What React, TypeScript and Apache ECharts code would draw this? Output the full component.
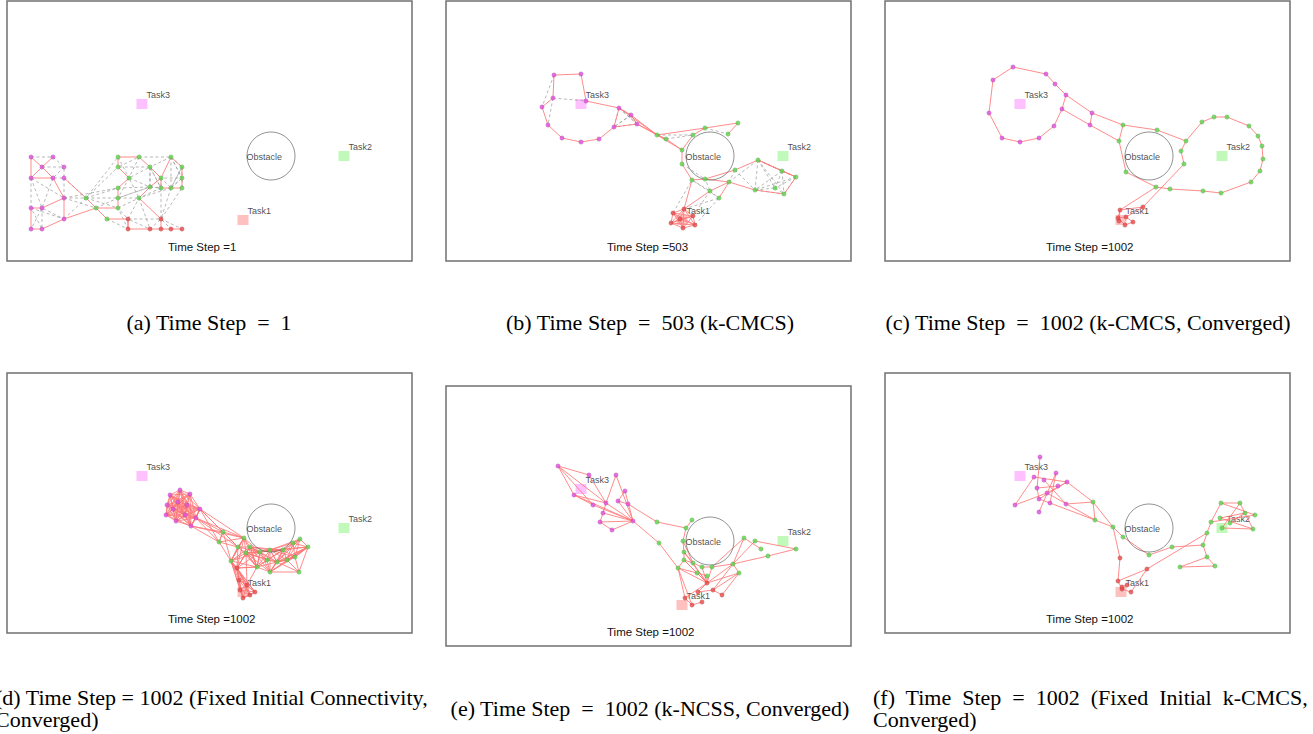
import React, { useEffect, useRef } from "react";
import * as echarts from "echarts";

type P = [number, number];

// ---------- shared scene data (frame-relative units) ----------
const taskNames = ["Task1", "Task2", "Task3"];
const taskPos: P[] = [[236, 219], [337, 155], [135, 103]];
const obstacleCenter: P = [264, 155];
const obstacleRadius = 24;
const timeSteps = [1, 503, 1002, 1002, 1002, 1002];
const captions: string[] = [
  "(a) Time Step  =  1",
  "(b) Time Step  =  503 (k-CMCS)",
  "(c) Time Step  =  1002 (k-CMCS, Converged)",
  "(d) Time Step = 1002 (Fixed Initial Connectivity,\nConverged)",
  "(e) Time Step  =  1002 (k-NCSS, Converged)",
  "(f)  Time  Step  =  1002  (Fixed  Initial  k-CMCS,\nConverged)",
];

// ---------- panel (a) ----------
const aMagenta: P[] = [[24,156],[46,156],[35,166],[57,166],[24,177],[46,177],[57,177],[57,197],[24,207],[35,207],[57,218],[24,228],[35,228]];
const aGreen: P[] = [[111,156],[132,156],[164,156],[111,166],[143,166],[175,166],[122,177],[154,177],[175,177],[111,187],[143,186],[154,187],[164,187],[175,187],[79,197],[111,197],[132,197],[89,207],[111,207],[100,218]];
const aRed: P[] = [[121,218],[154,218],[121,228],[143,228],[154,228],[164,228],[175,228]];
const aSolid: string[] = [
  "m0 m2 m1", "m2 m4 m0", "m4 m5 m2", "m5 m7 m9 m8 m11 m12 m10 m7", "m6 g14", "m10 g17",
  "g14 g17 g18 g15 g9 g6 g3 g0 g1 g4 g7 g2 g5 g8 g13 g12 g11 g7",
  "g17 g19 r0 r2 r3 r4 r5 r6", "g7 g10 g16 r1 r4", "r0 r2",
];
const aDashed: string[] = [
  "m0 m1", "m1 m3 m6", "m2 m3 m5 m6", "m4 m8", "m4 m9 m5", "m6 m7 m4", "m8 m10 m9 m11", "m9 m12 m8",
  "m7 g14 m10", "m7 g17", "m6 g14 g0", "g14 g3", "g14 g9", "g14 g15", "g14 g18", "m7 g9",
  "g1 g2", "g0 g6 g1 g3 g4 g6 g10 g4 g11", "g2 g8 g7 g12 g5", "g10 g11 g16 g12",
  "g9 g10 g15 g16 g6", "g15 g10", "g18 g16 r0 g18 r2", "g19 r2", "g17 g15",
  "g12 r1 g13", "g11 r1 r0 r3 r1 r5", "r1 r6", "g16 r3", "g6 g15", "g2 g4", "g13 g8 g12",
];
const aSolidCliques: string[] = [];
const aDashedCliques: string[] = ["g4 g7 g10 g11", "g2 g5 g8 g12"];

// ---------- panel (b) ----------
const bMagenta: P[] = [[108,74],[135,73],[107,97],[96,106],[140,100],[102,124],[116,137],[135,141],[153,138],[168,126],[173,107],[185,114],[191,123]];
const bGreen: P[] = [[211,134],[220,138],[247,134],[259,127],[282,133],[292,122],[236,149],[236,163],[246,179],[259,178],[283,181],[289,169],[264,190],[273,197],[312,159],[336,170],[350,176],[309,189],[329,187],[338,193]];
const bRed: P[] = [[238,208],[227,212],[247,215],[225,222],[249,224],[237,227],[234,218]];
const bSolid: string[] = [
  "m0 m1 m4 m10 m9 m8 m7 m6 m5 m3 m2 m0", "m10 m11 g0", "m9 m12 g1", "m11 m12", "m10 g0", "m12 g0",
  "g0 g3 g5 g4", "g3 g2 g6", "g0 g1 g6 g0", "g6 g7 g8 g9 g11 g14 g16 g19", "g14 g15 g16",
  "g10 g17 g19", "g9 g10 g13", "r0 g8", "r0 g12 g10",
];
const bDashed: string[] = [
  "m0 m3", "m2 m5", "m2 m4", "m10 m12", "m11 m9", "g1 g2", "g0 g2", "g3 g4", "g7 g9",
  "g8 g12 g9", "g12 g13 g8", "g10 g14", "g11 g17", "r0 g13", "r4 g13", "r2 g12", "r1 g8", "g11 g10",
];
const bSolidCliques: string[] = ["r0 r1 r2 r3 r4 r5 r6"];
const bDashedCliques: string[] = ["g14 g15 g16 g17 g18 g19", "m10 m11 m12 m9"];

// ---------- panel (c) ----------
const cMagenta: P[] = [[128,66],[161,73],[170,83],[181,94],[177,108],[169,125],[154,137],[135,141],[117,137],[104,112],[108,79],[207,112],[205,124]];
const cGreen: P[] = [[238,124],[272,129],[301,140],[296,150],[299,163],[285,188],[271,186],[241,171],[234,140],[317,121],[329,116],[342,116],[364,125],[373,135],[377,145],[378,158],[375,170],[366,181],[336,192],[318,190]];
const cRed: P[] = [[235,209],[258,206],[233,217],[241,216],[240,224],[248,221],[234,220]];
const cSolid: string[] = [
  "m0 m1 m2 m3 m4 m5 m6 m7 m8 m9 m10 m0", "m3 m11 g0", "m4 m12 g8", "m11 m12",
  "g0 g1 g2 g9 g10 g11 g12 g13 g14 g15 g16 g17 g18 g19 g5 g6 g7 g8 g0",
  "g2 g3 g4 r1", "g6 r0", "r0 r1 r3 r5 r4 r2 r0", "r2 r3", "r6 r0",
];
const cDashed: string[] = [];
const cSolidCliques: string[] = [];
const cDashedCliques: string[] = [];

// ---------- panel (d) ----------
const dMagenta: P[] = [[173,117],[163,122],[183,121],[160,132],[171,129],[180,132],[193,136],[159,142],[169,148],[178,142],[189,145],[184,153],[166,136]];
const dGreen: P[] = [[216,159],[212,169],[237,165],[231,174],[243,174],[224,188],[239,180],[253,179],[263,177],[276,177],[286,170],[293,166],[301,174],[288,184],[292,199],[280,187],[270,189],[260,187],[263,199],[250,194]];
const dRed: P[] = [[230,195],[232,207],[233,217],[236,225],[248,219],[240,212],[243,222]];
const dSolid: string[] = ["m6 g2", "m10 g3", "m11 g2", "m10 g2", "m6 g3"];
const dDashed: string[] = [];
const dSolidCliques: string[] = [
  "m0 m1 m2 m3 m4 m5 m6 m7 m8 m9 m10 m11 m12",
  "m6 m10 m11 g0 g1",
  "g0 g1 g2 g3 g5",
  "g2 g3 g4 g6 g7 g5 g19 r0",
  "g4 g6 g7 g8 g9 g17 g16 g19 g18",
  "g8 g9 g10 g11 g12 g13 g15 g16",
  "g13 g14 g15 g16 g18 g12",
  "r0 r1 r2 r3 r4 r5 r6 g5",
  "r0 r5 g19 g6",
];
const dDashedCliques: string[] = [];

// ---------- panel (e) ----------
const eMagenta: P[] = [[112,80],[143,89],[170,89],[128,109],[179,105],[172,115],[182,118],[147,119],[160,117],[157,127],[154,136],[187,135],[166,144]];
const eGreen: P[] = [[211,136],[213,157],[246,134],[240,142],[237,155],[238,166],[238,174],[232,182],[247,177],[251,187],[256,181],[261,190],[266,181],[298,152],[309,155],[315,163],[350,163],[322,170],[287,178],[293,187]];
const eRed: P[] = [[261,197],[267,204],[276,209],[239,212],[246,219],[256,216],[252,206]];
const eSolid: string[] = [
  "m0 m1 m8", "m0 m3 m7 m11", "m0 m8", "m0 m7", "m2 m8", "m2 m11", "m3 m8 m11", "m3 m11",
  "m9 m11", "m10 m11", "m12 m11", "m9 m10 m12", "m8 m9", "m4 m5 m6", "m4 m11", "m5 m11",
  "m6 g0 g3", "m11 g1 g7",
  "g2 g3 g4 g5 g6 g7", "g4 g8", "g5 g8", "g6 g8 g10 g12", "g6 g9 g11", "g7 g9",
  "g12 g13 g18 g14", "g14 g16 g17 g18", "g13 g15", "g18 g19",
  "g19 r1", "g19 r2", "g18 r1", "g18 r0", "g19 r0", "g12 g18",
  "r0 g7", "r0 g5", "r0 g6", "r0 g8", "r0 g9", "r0 g11", "r0 g10", "r0 g12",
  "r0 r3 r4 r5", "r0 r6 r1 r2", "g7 r3", "g7 r4",
];
const eDashed: string[] = [];
const eSolidCliques: string[] = [];
const eDashedCliques: string[] = [];

// ---------- panel (f) ----------
const fMagenta: P[] = [[155,84],[149,104],[159,107],[171,100],[182,109],[173,113],[152,115],[162,120],[154,126],[165,130],[181,131],[130,132],[154,139]];
const fGreen: P[] = [[208,129],[210,147],[228,154],[238,164],[264,182],[287,174],[318,172],[322,160],[322,184],[295,194],[330,193],[326,149],[336,130],[355,130],[360,140],[370,142],[337,155],[335,145],[368,156],[345,150]];
const fRed: P[] = [[235,185],[233,208],[262,196],[237,216],[246,219],[242,212],[237,214]];
const fSolid: string[] = [
  "m0 m6 m8", "m1 m4", "m1 m11", "m11 m7 m4", "m2 m10", "m3 m12", "m4 m8", "m5 m6", "m9 m8", "m3 m9",
  "m4 g0", "m10 g0", "m9 g1", "m7 g1",
  "g0 g1 g2 g0", "g2 g3 g4 g5 g6 g7 g11", "g9 g8 g6", "g9 g10 g8",
  "g11 g12 g13 g18", "g12 g15", "g11 g15", "g14 g17", "g16 g18", "g19 g14", "g17 g18", "g16 g13",
  "g2 r0 r1 r3 r4", "r1 r2 g7", "r4 r2", "r5 r6",
];
const fDashed: string[] = [];
const fSolidCliques: string[] = [];
const fDashedCliques: string[] = [];

const panelData = [
  { m: aMagenta, g: aGreen, r: aRed, solid: aSolid, dashed: aDashed, sc: aSolidCliques, dc: aDashedCliques },
  { m: bMagenta, g: bGreen, r: bRed, solid: bSolid, dashed: bDashed, sc: bSolidCliques, dc: bDashedCliques },
  { m: cMagenta, g: cGreen, r: cRed, solid: cSolid, dashed: cDashed, sc: cSolidCliques, dc: cDashedCliques },
  { m: dMagenta, g: dGreen, r: dRed, solid: dSolid, dashed: dDashed, sc: dSolidCliques, dc: dDashedCliques },
  { m: eMagenta, g: eGreen, r: eRed, solid: eSolid, dashed: eDashed, sc: eSolidCliques, dc: eDashedCliques },
  { m: fMagenta, g: fGreen, r: fRed, solid: fSolid, dashed: fDashed, sc: fSolidCliques, dc: fDashedCliques },
];

// ---------- layout (page pixels) ----------
const frames: [number, number][] = [[7, 1], [446, 1], [885, 1], [7, 373], [446, 386], [885, 373]];
const FW = 405;
const FH = 260;
const SANS = '"Liberation Sans", Arial, Helvetica, sans-serif';
const SERIF = '"Liberation Serif", "Times New Roman", Times, serif';

function buildOption() {
  const grid: any[] = [];
  const xAxis: any[] = [];
  const yAxis: any[] = [];
  const series: any[] = [];
  const graphic: any[] = [];

  panelData.forEach((pd, i) => {
    const [fx, fy] = frames[i];
    grid.push({
      left: fx, top: fy, width: FW, height: FH, show: true,
      borderColor: "#707070", borderWidth: 1.5, backgroundColor: "#fff",
    });
    xAxis.push({ type: "value", gridIndex: i, min: 0, max: FW, show: false });
    yAxis.push({ type: "value", gridIndex: i, min: 0, max: FH, inverse: true, show: false });

    const look = (id: string): P => {
      const k = id[0];
      const n = parseInt(id.slice(1), 10);
      return (k === "m" ? pd.m : k === "g" ? pd.g : pd.r)[n];
    };
    const chains = (list: string[]) =>
      list.map((s) => ({ coords: s.trim().split(/\s+/).map(look) }));
    const cliques = (list: string[]) => {
      const out: any[] = [];
      list.forEach((s) => {
        const ids = s.trim().split(/\s+/);
        for (let a = 0; a < ids.length; a++)
          for (let b = a + 1; b < ids.length; b++)
            out.push({ coords: [look(ids[a]), look(ids[b])] });
      });
      return out;
    };

    series.push({
      type: "scatter", xAxisIndex: i, yAxisIndex: i, z: 1, silent: true,
      symbol: "rect", symbolSize: [11, 10],
      data: taskNames.map((n, k) => ({
        name: n, value: taskPos[k],
        itemStyle: { color: ["#ffb0b0", "#b0f7a8", "#ffb0ff"][k] },
      })),
      label: {
        show: true, formatter: "{b}", position: [10, -4], align: "left", verticalAlign: "middle",
        fontFamily: SANS, fontSize: 9, color: "#1a1a1a",
      },
    });
    series.push({
      type: "lines", coordinateSystem: "cartesian2d", xAxisIndex: i, yAxisIndex: i, z: 2,
      polyline: true, silent: true,
      lineStyle: { color: "#9a9a9a", width: 0.7, type: [3, 2.5], opacity: 1 },
      data: [...chains(pd.dashed), ...cliques(pd.dc)],
    });
    series.push({
      type: "lines", coordinateSystem: "cartesian2d", xAxisIndex: i, yAxisIndex: i, z: 3,
      polyline: true, silent: true,
      lineStyle: { color: "#ff7878", width: 0.9, opacity: 0.95 },
      data: [...chains(pd.solid), ...cliques(pd.sc)],
    });
    series.push({
      type: "scatter", xAxisIndex: i, yAxisIndex: i, z: 4, silent: true,
      symbol: "circle", symbolSize: obstacleRadius * 2,
      itemStyle: { color: "rgba(0,0,0,0)", borderColor: "#555", borderWidth: 0.8 },
      data: [{ name: "Obstacle", value: obstacleCenter }],
      label: {
        show: true, formatter: "{b}", position: [0, obstacleRadius + 1], align: "left", verticalAlign: "middle",
        fontFamily: SANS, fontSize: 9, color: "#1a1a1a",
      },
    });
    const nodeSeries = (pts: P[], color: string) => ({
      type: "scatter", xAxisIndex: i, yAxisIndex: i, z: 5, silent: true,
      symbol: "circle", symbolSize: 4.5,
      itemStyle: { color, borderColor: "rgba(0,0,0,0.25)", borderWidth: 0.5 },
      data: pts,
    });
    series.push(nodeSeries(pd.m, "#e050e0"));
    series.push(nodeSeries(pd.g, "#5cd64c"));
    series.push(nodeSeries(pd.r, "#e84c4c"));

    graphic.push({
      type: "text", x: fx + 161, y: fy + 246, z: 10, silent: true,
      style: {
        text: "Time Step =" + timeSteps[i], fontFamily: SANS, fontSize: 11.5, fill: "#111",
        align: "left", verticalAlign: "middle", textAlign: "left", textVerticalAlign: "middle",
      },
    });
  });

  // captions
  const capPos: { x: number; y: number; align: string }[] = [
    { x: 209, y: 322, align: "center" },
    { x: 650, y: 322, align: "center" },
    { x: 1088, y: 322, align: "center" },
    { x: -5, y: 708, align: "left" },
    { x: 650, y: 708, align: "center" },
    { x: 873, y: 708, align: "left" },
  ];
  captions.forEach((t, i) => {
    graphic.push({
      type: "text", x: capPos[i].x, y: capPos[i].y, z: 10, silent: true,
      style: {
        text: t, fontFamily: SERIF, fontSize: 22, lineHeight: 22, fill: "#000",
        align: capPos[i].align, verticalAlign: "middle",
        textAlign: capPos[i].align, textVerticalAlign: "middle",
      },
    });
  });

  return {
    animation: false,
    backgroundColor: "#fff",
    grid, xAxis, yAxis, series, graphic,
  };
}

export default function App() {
  const ref = useRef<HTMLDivElement>(null);
  useEffect(() => {
    if (!ref.current) return;
    const chart = echarts.init(ref.current, undefined, { renderer: "svg" });
    chart.setOption(buildOption() as any);
    return () => chart.dispose();
  }, []);
  return (
    <div
      ref={ref}
      style={{ position: "absolute", left: 0, top: 0, width: 1313, height: 734, background: "#fff" }}
    />
  );
}
